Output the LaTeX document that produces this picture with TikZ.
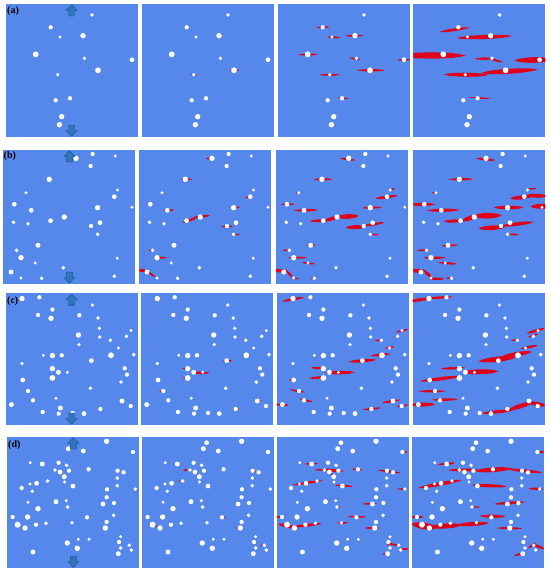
\documentclass[tikz,border=0pt]{standalone}
\usepackage{fontspec}
\setmainfont{Liberation Serif}
\definecolor{bgblue}{RGB}{86,136,236}
\definecolor{crred}{RGB}{222,0,26}
\definecolor{arrfill}{RGB}{46,117,190}
\definecolor{arrline}{RGB}{30,80,140}
\tikzset{
  panel/.style={fill=bgblue},
  crk/.style={fill=crred},
  dotw/.style={fill=white},
  loadarrow/.style={fill=arrfill,draw=arrline,line width=0.4pt},
  lbl/.style={font=\fontsize{10}{10}\selectfont\bfseries, inner sep=0pt, anchor=north west}
}
% band-shaped crack: x1 y1 x2 y2 half-thickness
\newcommand\crk[5]{%
  \pgfmathsetmacro\cdx{#3-#1}\pgfmathsetmacro\cdy{#4-#2}%
  \pgfmathsetmacro\cL{sqrt(\cdx*\cdx+\cdy*\cdy)}%
  \pgfmathsetmacro\cnx{-\cdy/\cL*#5*4/3}\pgfmathsetmacro\cny{\cdx/\cL*#5*4/3}%
  \fill[crk] (#1,#2) .. controls ({#1+0.15*\cdx+\cnx},{#2+0.15*\cdy+\cny}) and ({#1+0.85*\cdx+\cnx},{#2+0.85*\cdy+\cny}) .. (#3,#4)
    .. controls ({#1+0.85*\cdx-\cnx},{#2+0.85*\cdy-\cny}) and ({#1+0.15*\cdx-\cnx},{#2+0.15*\cdy-\cny}) .. cycle;}
\newcommand\pan[5]{%
  \begin{scope}[shift={(#1,#2)}]
    \fill[panel] (0,0) rectangle (132,#3);
    \begin{scope}\clip (0,0) rectangle (132,#3); #5 \end{scope}
    \foreach \px/\py/\pr in #4 {\fill[dotw] (\px,\py) circle[radius=1.08*\pr];}
  \end{scope}}
\newcommand\loadarrows[3]{%
  \begin{scope}[shift={(#1,#2)}]
    \draw[loadarrow] (66,0.7) -- (71.7,6.5) -- (69,6.5) -- (69,12) -- (63,12) -- (63,6.5) -- (60.3,6.5) -- cycle;
    \draw[loadarrow] (66,#3-0.7) -- (71.7,#3-6.5) -- (69,#3-6.5) -- (69,#3-12) -- (63,#3-12) -- (63,#3-6.5) -- (60.3,#3-6.5) -- cycle;
  \end{scope}}
\def\dotsA{86.3/11/1.8, 45/23.3/2, 54.3/33/1.5, 77.3/31.7/2.5, 30/50.3/2.7, 78.7/54.3/1.7, 126.3/55.7/2.2, 92.3/66.3/2.7, 52/70.7/1.7, 50/96.3/2, 64.3/94.3/2, 56/112.7/2.5, 53.7/120.7/2.5}
\def\dotsB{72.7/8.3/2.5, 89.3/4/2, 112/6/1.5, 87.3/16/2, 46/29.3/2.5, 22.7/42.7/1.5, 114.3/40/1.5, 111/46.7/2.2, 11/54.3/2.2, 28/60.3/2.2, 94.3/57.7/2.5, 128.7/57.3/1.5, 10.3/72.3/1.8, 24.7/73.7/1.7, 47.3/70.7/2.2, 61/67/2.5, 96.7/72.7/2.2, 87.7/76/2, 94.3/84.3/1.8, 34.7/95.3/2.3, 13.3/100.3/1.8, 17.7/107.7/2.5, 32/113/1.5, 114/108.3/1.5, 60/117.7/1.8, 7.7/122/2.3, 17.7/128/1.5, 38.3/128.3/1.8, 111/126.3/1.8}
\def\dotsC{16.3/5.3/2.5, 33.7/4/2, 46.7/16.3/2, 86.7/11.7/1.7, 32.3/21.7/2, 45.3/25/2.5, 73.7/22/2, 92.3/24.7/1.8, 93.7/35/1.7, 72.7/41.7/2.5, 94/43.7/1.8, 125.3/37.3/1.5, 120.7/43/1.8, 104.7/47/1.8, 73.3/51.3/1.7, 112.7/54.7/1.5, 37.7/62/1.5, 46.7/62.3/2.5, 56/62/2, 105.3/62/2.7, 128/61.3/1.8, 85.7/67.3/2.2, 16.3/70.3/1.7, 46.7/75.3/2.5, 52.7/79/2.3, 61.7/79/1.5, 119/75/2, 121.3/81.3/2, 46.7/84.7/2.7, 17/86.7/2.2, 115.3/88.7/1.8, 84.7/95/1.8, 22.3/97.7/2, 50.3/105/1.5, 27.3/107/2, 116.3/107.7/2.3, 5.7/111.3/2.3, 54.7/114.7/2.3, 94.7/115.7/2, 125/112.7/2, 37/118.7/2, 53/120.3/2, 67/119.7/2, 78.3/120.3/2.2}
\def\dotsD{99.3/4.3/2.5, 64.3/5.7/2.2, 61/11.7/2.3, 76/14/2.2, 125.7/15/2, 23/25.7/1.5, 35/27/2.3, 51.3/25.7/2, 59.3/28.3/1.8, 47.7/33/1.8, 52.7/35/2.2, 61.7/33.7/2, 81.3/32.3/2, 110.3/33.7/2, 116.3/35.3/2, 57/39.7/2.3, 57.3/45/1.5, 110/41/1.8, 29.3/46.3/2.2, 22.7/47/1.5, 40.3/44/1.8, 65.7/49/2.2, 110/48.7/1.8, 14.3/51/2, 25/54.3/1.7, 99.7/52.3/2, 128/52/1.8, 99.3/60.3/2, 48.7/64.7/2.3, 59/63.7/1.5, 20.7/65.3/1.5, 95.7/67/2.3, 106.7/66/2, 30.7/71.7/2.5, 60.3/70/1.8, 5.3/80/2, 20.3/80/2.5, 79.7/80.3/2, 106.3/78.3/1.8, 10.3/87.7/2.8, 17.7/91/2.5, 28.7/87.7/2, 38.7/86.3/1.8, 64.7/85.7/1.7, 99.3/85/2, 98/91/2.5, 113.3/99.7/1.5, 71/102.3/1.5, 81.7/102.3/1.5, 111.7/105/2, 122/108.3/1.8, 60/106/2.5, 70/111.3/2.5, 113.3/111/1.8, 124/113/1.8, 111/116.7/2.3, 25.7/115/2.3}
\begin{document}
\begin{tikzpicture}[x=1pt,y=-1pt]
\useasboundingbox (0,0) rectangle (550,573);
\fill[white] (0,0) rectangle (550,573);
% ---------------- row (a)
\pan{5.7}{4}{133}{\dotsA}{}
\pan{141.7}{4}{133}{\dotsA}{%
  \crk{87.5}{66.3}{97.5}{66.3}{0.9}
  \crk{49}{70.7}{55}{70.7}{0.6}}
\pan{277.7}{4}{133}{\dotsA}{%
  \crk{38.5}{23.6}{52}{23}{0.9}
  \crk{49.5}{33.2}{62.5}{33.4}{0.9}
  \crk{68}{31.8}{85.5}{31.7}{1}
  \crk{21}{50.7}{39.5}{50.5}{1}
  \crk{71}{54}{83.5}{55.3}{0.8}
  \crk{119.5}{56}{133}{55.5}{1.1}
  \crk{79.5}{66.3}{107}{66.3}{1.2}
  \crk{42}{70.8}{62.5}{70.8}{0.9}
  \crk{60}{93.8}{71}{94.6}{0.7}}
\pan{413.3}{4}{133}{\dotsA}{%
  \crk{26}{28}{56}{23.5}{1.4}
  \crk{43.5}{34}{98.5}{32}{2}
  \crk{-15}{51.5}{52}{51.5}{3.1}
  \crk{61.5}{54.8}{80}{54.5}{1.2}
  \crk{76}{54.5}{90}{58.5}{1}
  \crk{101.5}{56.5}{140}{55.5}{2.8}
  \crk{30.5}{70.5}{75}{71}{2}
  \crk{68}{69}{124}{65.5}{2.5}
  \crk{55.5}{93.3}{77}{94.5}{0.7}}
\loadarrows{5.7}{4}{133}
% ---------------- row (b)
\pan{3.3}{150}{134}{\dotsB}{}
\pan{139.3}{150}{134}{\dotsB}{%
  \crk{66.5}{8.5}{73}{8.3}{0.9}
  \crk{42}{29.5}{52.5}{29.3}{0.8}
  \crk{105.5}{47.5}{111}{47}{0.8}
  \crk{24}{60.3}{35}{60}{0.9}
  \crk{43}{72.5}{57}{68}{1.3}
  \crk{54}{67.5}{70.5}{65.5}{1.3}
  \crk{94}{57.7}{100.5}{57.3}{0.8}
  \crk{81.5}{76.8}{94}{76.3}{0.9}
  \crk{94.5}{84.3}{100.5}{84.6}{0.7}
  \crk{8.5}{100.3}{14}{100.3}{0.7}
  \crk{14}{107.7}{28}{107.7}{1}
  \crk{-3}{120}{9}{121}{1.5}
  \crk{8}{121.5}{16}{127}{1}}
\pan{276}{150}{134}{\dotsB}{%
  \crk{64}{8.3}{79.5}{10.3}{1.1}
  \crk{38}{29.5}{56}{29.2}{1.1}
  \crk{19.5}{42.7}{23.5}{42.7}{0.7}
  \crk{113}{39.5}{119.5}{39}{0.8}
  \crk{99.5}{48.5}{121.5}{45.5}{1.5}
  \crk{5}{54.3}{18.5}{54.3}{1}
  \crk{18}{60.5}{42}{60}{1.2}
  \crk{86}{58}{105.5}{57.3}{1}
  \crk{126.5}{57.3}{131}{57.3}{0.7}
  \crk{34}{71}{52}{70.5}{1.3}
  \crk{48}{71}{65}{66}{1.8}
  \crk{61}{67}{82.5}{66}{2.3}
  \crk{70}{77.5}{89}{76.8}{2}
  \crk{87}{76}{108}{72.5}{1.3}
  \crk{94.5}{84.3}{102.5}{84.8}{0.8}
  \crk{30.5}{95.3}{40}{95}{0.9}
  \crk{6.5}{100.3}{15}{100.3}{0.8}
  \crk{12}{107.7}{31}{107.7}{1}
  \crk{26}{112.5}{39}{114}{1}
  \crk{-5}{120.5}{12}{121}{1.6}
  \crk{11}{121}{16}{127}{1.2}
  \crk{15}{128}{23}{129}{0.8}
  \crk{34}{128}{39.5}{128.3}{0.7}}
\pan{413.3}{150}{134}{\dotsB}{%
  \crk{62.5}{8.3}{82}{10.3}{1.2}
  \crk{35.5}{29.5}{59.5}{29}{1.2}
  \crk{18.5}{42.7}{23.5}{42.7}{0.8}
  \crk{115}{38.8}{123}{38.5}{0.9}
  \crk{97}{48.5}{118}{46.5}{2}
  \crk{112}{45.5}{134}{46}{2}
  \crk{-4}{54.5}{22}{54.3}{1.5}
  \crk{14}{60.5}{46}{60}{1.6}
  \crk{80.5}{57.5}{110}{57.5}{1.8}
  \crk{117.5}{56.5}{140}{56}{2.5}
  \crk{30.5}{71.5}{52}{70.5}{1.6}
  \crk{48}{71}{66}{65}{2.2}
  \crk{60}{66}{88}{65.5}{2.8}
  \crk{65.5}{78.5}{92}{77}{2.3}
  \crk{88}{76}{120}{72}{1.8}
  \crk{95}{84.3}{105.5}{84.6}{0.9}
  \crk{28}{96}{44.5}{95}{1}
  \crk{3.5}{100.3}{16}{100.3}{0.9}
  \crk{10.5}{107.7}{32}{107.7}{1.2}
  \crk{25}{112.5}{44}{114}{1.1}
  \crk{-5}{120.5}{13}{121}{2}
  \crk{11}{121}{18}{127}{1.6}
  \crk{15}{128.5}{31}{129}{1.3}
  \crk{32.5}{128}{41}{128.3}{0.8}}
\loadarrows{3.3}{150}{134}
% ---------------- row (c)
\pan{5.7}{293.3}{131.7}{\dotsC}{}
\pan{141}{293.3}{131.7}{\dotsC}{%
  \crk{13}{6}{20}{4.5}{0.8}
  \crk{41}{75.3}{46}{75.3}{0.7}
  \crk{49}{79.5}{68.5}{79.5}{1.2}
  \crk{41.5}{84.7}{46}{84.7}{0.7}
  \crk{81.5}{67.5}{91.5}{67.5}{0.8}
  \crk{101.5}{62}{109}{62.5}{0.8}
  \crk{18}{97.7}{24}{98.5}{0.7}
  \crk{25}{107}{30}{107.5}{0.6}
  \crk{113.5}{108}{120.5}{107.5}{0.7}
  \crk{92}{116}{98.5}{115.7}{0.7}
  \crk{102}{47}{105}{47}{0.6}}
\pan{276.7}{293.3}{131.7}{\dotsC}{%
  \crk{5.5}{8}{27}{4}{1.3}
  \crk{119}{39}{131.5}{36}{1}
  \crk{117.5}{44}{122.5}{42}{0.8}
  \crk{98}{47.3}{106}{47}{0.8}
  \crk{108}{55}{118}{53.5}{0.9}
  \crk{94}{62.5}{113.5}{60.5}{1.3}
  \crk{72}{68.5}{99.5}{66.5}{1.6}
  \crk{34}{74.5}{48.5}{75}{1}
  \crk{48}{79.5}{78}{79}{1.8}
  \crk{32.5}{85}{48.5}{83.7}{1.2}
  \crk{12}{86.7}{18.5}{86.7}{0.7}
  \crk{113}{88.7}{118}{88.7}{0.7}
  \crk{13}{96.3}{28.5}{99}{1}
  \crk{22.5}{105.5}{36}{108.5}{1}
  \crk{-2}{111}{12}{112}{1.2}
  \crk{86}{116.5}{104.5}{114.5}{1}
  \crk{105.5}{109.5}{123.5}{106.5}{1.2}
  \crk{120}{113.5}{131.5}{111.5}{1}}
\pan{412.7}{293.3}{131.7}{\dotsC}{%
  \crk{-3}{8}{17}{5}{1.6}
  \crk{14}{5}{40}{3.5}{1.2}
  \crk{114}{40}{132}{35}{1.4}
  \crk{115}{44}{126}{40.5}{0.9}
  \crk{98}{47}{107.5}{46.7}{0.8}
  \crk{108}{55.5}{125}{52}{1.2}
  \crk{66}{68}{103}{64}{2.6}
  \crk{90}{63}{119}{58.5}{2.1}
  \crk{28}{75.5}{52.5}{74.3}{1.2}
  \crk{49}{79}{86}{78}{2.4}
  \crk{7}{88}{48}{83}{1.7}
  \crk{6}{98}{32.5}{98}{1.2}
  \crk{19.5}{106.5}{45}{106}{1.3}
  \crk{-2}{111.5}{22}{111}{2}
  \crk{69}{120}{100}{117}{1.6}
  \crk{95}{117}{121}{108.5}{2.2}
  \crk{115}{109}{134}{112.5}{2}}
\loadarrows{5.7}{293.3}{131.7}
% ---------------- row (d)
\pan{7.3}{437}{131}{\dotsD}{}
\pan{142.3}{437}{131}{\dotsD}{%
  \crk{40.5}{33}{46}{33}{1}
  \crk{51}{35}{56}{36.5}{0.7}
  \crk{55}{40}{58}{41}{0.6}
  \crk{36}{44}{39}{44}{0.6}
  \crk{110}{34.5}{114}{35}{0.7}
  \crk{92}{67}{95}{67}{0.5}
  \crk{81}{80.3}{84}{80.3}{0.5}
  \crk{93}{91}{96}{91}{0.5}
  \crk{6}{87.5}{15.5}{89.5}{0.8}
  \crk{118}{108}{122}{108.5}{0.6}}
\pan{276.7}{437}{131}{\dotsD}{%
  \crk{124}{15}{131}{15}{0.8}
  \crk{28}{27}{41.5}{26.5}{0.9}
  \crk{37.5}{33}{60}{32.5}{1}
  \crk{52}{34}{68}{34}{0.9}
  \crk{53}{35}{58}{40}{0.8}
  \crk{75}{32}{86}{33}{0.8}
  \crk{101}{33}{124}{36}{1.1}
  \crk{15.5}{48}{46}{43.5}{1.2}
  \crk{58}{48}{76}{49.5}{1}
  \crk{120.5}{52}{130}{52}{0.8}
  \crk{85.5}{67}{100.5}{66.5}{0.9}
  \crk{105}{66}{109}{66}{0.6}
  \crk{60}{70}{64.5}{70}{0.6}
  \crk{-1}{80}{8.5}{80}{1}
  \crk{71}{79.5}{89.5}{80}{0.9}
  \crk{1.5}{87}{20}{91}{1.8}
  \crk{15}{90}{45}{86.5}{1.4}
  \crk{60}{86}{71.5}{85.7}{0.9}
  \crk{87.5}{91}{103.5}{91}{1}
  \crk{110}{106}{123.5}{109}{1}
  \crk{110}{108.5}{114}{105}{0.8}
  \crk{124.5}{112}{132}{112}{1}
  \crk{105.5}{117}{112}{116.5}{0.8}}
\pan{411.7}{437}{131}{\dotsD}{%
  \crk{126}{15}{134}{15}{0.9}
  \crk{26.5}{27.5}{43.5}{26}{1.2}
  \crk{37}{33}{67}{33}{1.5}
  \crk{63}{34}{100}{31.5}{2.3}
  \crk{95}{32}{130.5}{35.5}{1.5}
  \crk{6.5}{51}{50}{43}{1.8}
  \crk{60}{48}{95}{49.5}{1.6}
  \crk{117}{51.5}{132}{52}{1.2}
  \crk{82.5}{67}{113.5}{65}{1.4}
  \crk{60}{70}{68.5}{70}{0.7}
  \crk{-1}{80}{12}{80}{1.2}
  \crk{68}{79}{93.5}{79.5}{1.6}
  \crk{0}{87}{25}{91}{3.3}
  \crk{18}{90}{50}{88}{2.5}
  \crk{45}{88}{77}{86}{2}
  \crk{85}{91}{110.5}{91.5}{1.1}
  \crk{116.5}{111}{124}{106}{1.1}
  \crk{120}{107}{133}{112}{1.4}
  \crk{102.5}{118.5}{114}{116}{1.1}}
\loadarrows{7.3}{437}{131}
% ---------------- labels
\node[lbl] (la) at (7,6.5) {(a)};
\node[lbl] (lb) at (3.5,151.5) {(b)};
\node[lbl] (lc) at (7,296) {(c)};
\node[lbl] (ld) at (8,440) {(d)};
\end{tikzpicture}
\end{document}
